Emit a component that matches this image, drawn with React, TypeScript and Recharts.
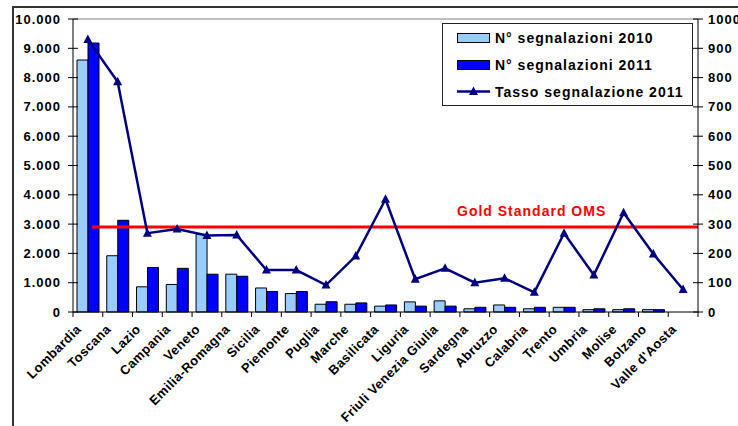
import React from 'react';
import { ComposedChart, Bar, Line, XAxis, YAxis, ReferenceLine } from 'recharts';

const regions = [
  'Lombardia', 'Toscana', 'Lazio', 'Campania', 'Veneto', 'Emilia-Romagna', 'Sicilia',
  'Piemonte', 'Puglia', 'Marche', 'Basilicata', 'Liguria', 'Friuli Venezia Giulia',
  'Sardegna', 'Abruzzo', 'Calabria', 'Trento', 'Umbria', 'Molise', 'Bolzano', "Valle d'Aosta",
];
const reports2010 = [8600, 1920, 860, 940, 2650, 1290, 820, 630, 265, 265, 200, 345, 380, 110, 240, 110, 160, 80, 80, 80, 0];
const reports2011 = [9180, 3130, 1520, 1490, 1290, 1220, 700, 700, 350, 310, 240, 200, 200, 160, 160, 160, 160, 110, 110, 80, 0];
const rate2011 = [930, 786, 269, 283, 261, 263, 143, 143, 92, 191, 385, 112, 149, 100, 115, 67, 269, 126, 339, 198, 77];
const goldStandard = 290;
const leftTicks = [0, 1000, 2000, 3000, 4000, 5000, 6000, 7000, 8000, 9000, 10000];
const rightTicks = [0, 100, 200, 300, 400, 500, 600, 700, 800, 900, 1000];

const data = regions.map((region, i) => ({
  region,
  r2010: reports2010[i],
  r2011: reports2011[i],
  rate: rate2011[i],
}));

const FONT = '"Liberation Sans", Arial, sans-serif';
const NAVY = '#000080';

const formatThousands = (v: number) => String(v).replace(/\B(?=(\d{3})+(?!\d))/g, '.');

const LeftTick = ({ x, y, payload }: any) => (
  <g>
    <line x1={x + 7} y1={y} x2={x + 17} y2={y} stroke="#000" />
    <text x={x} y={y} dy={4.5} textAnchor="end" fontFamily={FONT} fontWeight="bold" fontSize={13} letterSpacing={1} fill="#000">
      {formatThousands(payload.value)}
    </text>
  </g>
);

const RightTick = ({ x, y, payload }: any) => (
  <g>
    <line x1={x - 15} y1={y} x2={x - 5} y2={y} stroke="#000" />
    <text x={x} y={y} dy={4.5} textAnchor="start" fontFamily={FONT} fontWeight="bold" fontSize={13} letterSpacing={1} fill="#000">
      {payload.value}
    </text>
  </g>
);

// category labels turned 45°, tick marks sit between the regions
const RegionTick = ({ x, y, payload, index, visibleTicksCount }: any) => {
  const half = payload.offset || 0;
  const tx = x - 6;
  const ty = y + 18;
  return (
    <g>
      <line x1={x - half} y1={y} x2={x - half} y2={y + 5} stroke="#000" />
      {index === visibleTicksCount - 1 && (
        <line x1={x + half} y1={y} x2={x + half} y2={y + 5} stroke="#000" />
      )}
      <text x={tx} y={ty} transform={`rotate(-45 ${tx} ${ty})`} textAnchor="end" fontFamily={FONT} fontWeight="bold" fontSize={13} letterSpacing={0.4} fill="#000">
        {payload.value}
      </text>
    </g>
  );
};

const TriangleDot = ({ cx, cy, index }: any) => (
  <polygon key={`tri-${index}`} points={`${cx},${cy - 5} ${cx + 4.5},${cy + 3.5} ${cx - 4.5},${cy + 3.5}`} fill={NAVY} />
);

const GoldLine = ({ x1, y1, x2 }: any) => {
  const left = Math.min(x1, x2) + 19;
  const right = Math.max(x1, x2);
  return <line x1={left} y1={y1} x2={right} y2={y1} stroke="#FF0000" strokeWidth={3} />;
};

const legendRow: React.CSSProperties = {
  position: 'absolute',
  left: 52,
  height: 16,
  lineHeight: '16px',
  fontFamily: FONT,
  fontWeight: 'bold',
  fontSize: 14,
  letterSpacing: 1,
  color: '#000',
  whiteSpace: 'nowrap',
};

const LegendBox = () => (
  <div style={{ position: 'absolute', left: 442, top: 23, width: 251, height: 83, boxSizing: 'border-box', border: '1px solid #222', background: '#fff' }}>
    <svg style={{ position: 'absolute', left: 0, top: 0 }} width={251} height={83}>
      <rect x={14.5} y={9.5} width={32} height={9} fill="#99CCFF" stroke="#000" />
      <rect x={14.5} y={36.5} width={32} height={9} fill="#0000FF" stroke="#000" />
      <line x1={14} y1={67.5} x2={47} y2={67.5} stroke={NAVY} strokeWidth={2.5} />
      <polygon points="30.5,62.5 35,71 26,71" fill={NAVY} />
    </svg>
    <div style={{ ...legendRow, top: 6 }}>N° segnalazioni 2010</div>
    <div style={{ ...legendRow, top: 33 }}>N° segnalazioni 2011</div>
    <div style={{ ...legendRow, top: 60 }}>Tasso segnalazione 2011</div>
  </div>
);

export default function App() {
  return (
    <div style={{ position: 'absolute', left: 0, top: 0, width: 738, height: 426, overflow: 'hidden', background: '#fff' }}>
      <div style={{ position: 'absolute', left: 12, top: 6, width: 800, height: 500, borderTop: '2px solid #333', borderLeft: '2px solid #333' }} />
      <div style={{ position: 'absolute', left: 0, top: 0 }}>
        <ComposedChart width={738} height={426} data={data} margin={{ top: 19, right: 0, bottom: 0, left: 0 }} barGap={0} barSize={11}>
          <XAxis dataKey="region" interval={0} height={114} tickSize={0} tickMargin={0} tickLine={false} axisLine={{ stroke: '#000' }} tick={<RegionTick />} />
          <YAxis yAxisId="left" orientation="left" width={73} domain={[0, 10000]} ticks={leftTicks} interval={0} tickSize={0} tickMargin={12} tickLine={false} axisLine={{ stroke: '#000' }} tick={<LeftTick />} />
          <YAxis yAxisId="right" orientation="right" width={40} domain={[0, 1000]} ticks={rightTicks} interval={0} tickSize={0} tickMargin={10} tickLine={false} axisLine={{ stroke: '#000' }} tick={<RightTick />} />
          <ReferenceLine yAxisId="left" y={10000} stroke="#808080" />
          <Bar yAxisId="left" dataKey="r2010" name="N° segnalazioni 2010" fill="#99CCFF" stroke="#000" strokeWidth={1} isAnimationActive={false} />
          <Bar yAxisId="left" dataKey="r2011" name="N° segnalazioni 2011" fill="#0000FF" stroke="#000" strokeWidth={1} isAnimationActive={false} />
          <ReferenceLine yAxisId="right" y={goldStandard} shape={<GoldLine />} />
          <Line yAxisId="right" dataKey="rate" name="Tasso segnalazione 2011" stroke={NAVY} strokeWidth={2.5} dot={<TriangleDot />} activeDot={false} isAnimationActive={false} />
        </ComposedChart>
      </div>
      <LegendBox />
      <div style={{ position: 'absolute', left: 457, top: 203, height: 16, lineHeight: '16px', fontFamily: FONT, fontWeight: 'bold', fontSize: 14, letterSpacing: 1, color: '#FF0000', whiteSpace: 'nowrap' }}>
        Gold Standard OMS
      </div>
    </div>
  );
}
